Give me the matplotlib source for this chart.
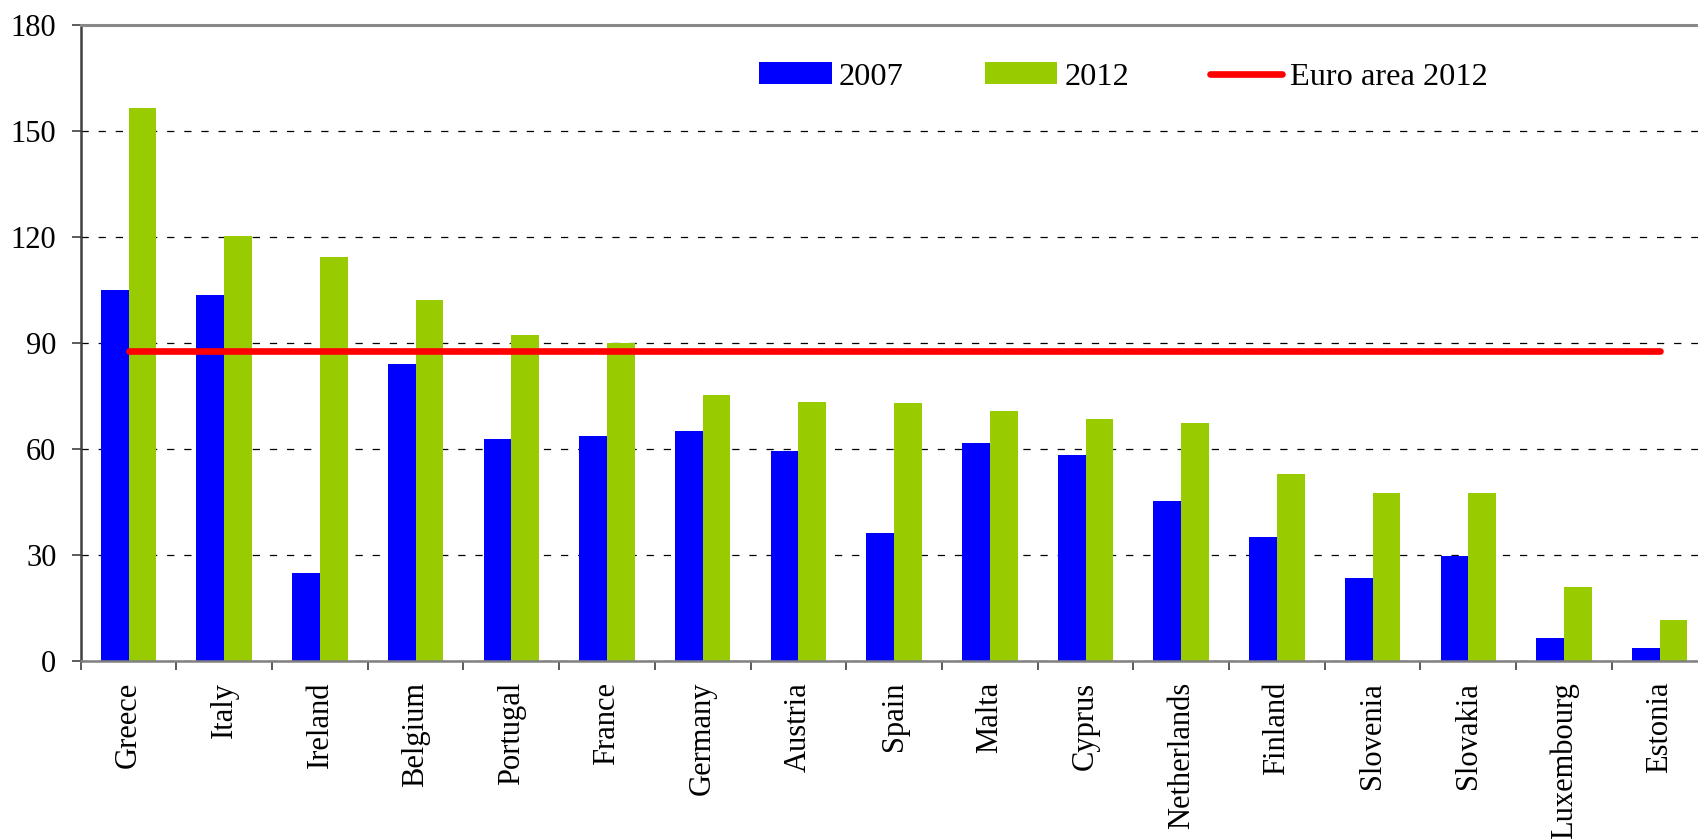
import numpy as np
import matplotlib
matplotlib.use("Agg")
import matplotlib.pyplot as plt

plt.rcParams['font.family'] = ['Liberation Serif', 'DejaVu Serif']

# Data (government debt, % of GDP)
countries = ['Greece', 'Italy', 'Ireland', 'Belgium', 'Portugal', 'France',
             'Germany', 'Austria', 'Spain', 'Malta', 'Cyprus', 'Netherlands',
             'Finland', 'Slovenia', 'Slovakia', 'Luxembourg', 'Estonia']
debt_2007 = [105.0, 103.6, 24.9, 84.1, 62.9, 63.7, 65.1, 59.4, 36.2, 61.6,
             58.3, 45.3, 35.1, 23.5, 29.8, 6.5, 3.7]
debt_2012 = [156.3, 120.1, 114.3, 102.2, 92.3, 89.9, 75.3, 73.3, 73.1, 70.7,
             68.5, 67.4, 52.9, 47.5, 47.5, 20.9, 11.5]
euro_area_2012 = 87.8
yticks = [0, 30, 60, 90, 120, 150, 180]

blue = '#0000FF'
green = '#99CC00'
red = '#FF0000'

fig = plt.figure(figsize=(16.98, 8.39), dpi=100)
# axes runs a little past the right edge, like the original
ax = fig.add_axes([0.04753, 0.2122, 0.9581, 0.7584])

x = np.arange(len(countries))
w = 0.29
b1 = ax.bar(x - w / 2, debt_2007, width=w, color=blue, label='2007', zorder=2)
b2 = ax.bar(x + w / 2, debt_2012, width=w, color=green, label='2012', zorder=2)
ln, = ax.plot(x, [euro_area_2012] * len(x), color=red, lw=4.8,
              solid_capstyle='round', label='Euro area 2012', zorder=3)

ax.set_xlim(-0.5, len(countries) - 0.5)
ax.set_ylim(yticks[0], yticks[-1])
ax.set_yticks(yticks)

# category labels in the middle, tick marks on the boundaries
ax.set_xticks(x)
ax.set_xticklabels(countries, rotation=90, fontsize=22, va='top', ha='center')
ax.tick_params(axis='x', which='major', length=0, pad=15)
ax.set_xticks(np.arange(len(countries) + 1) - 0.5, minor=True)
ax.tick_params(axis='x', which='minor', length=6.5, width=1.2,
               direction='out', color='#404040')
ax.tick_params(axis='y', length=6.5, width=1.2, direction='out',
               color='#404040', pad=11, labelsize=22)

ax.yaxis.grid(True, color='black', lw=0.9, linestyle=(0, (5.8, 7.9)))
ax.set_axisbelow(True)

ax.spines['top'].set_color('#888888')
ax.spines['top'].set_linewidth(2.2)
ax.spines['left'].set_color('#404040')
ax.spines['left'].set_linewidth(1.8)
ax.spines['bottom'].set_color('#808080')
ax.spines['bottom'].set_linewidth(1.8)
ax.spines['right'].set_visible(False)

fig.legend(handles=[b1, b2, ln], loc='center left',
           bbox_to_anchor=(759.4 / 1698, 1 - 77 / 839), ncol=3,
           frameon=False, fontsize=23.3, borderpad=0, borderaxespad=0,
           handlelength=2.24, handletextpad=0.22, columnspacing=2.5,
           handleheight=0.65)

fig.savefig('out.png', dpi=100)
